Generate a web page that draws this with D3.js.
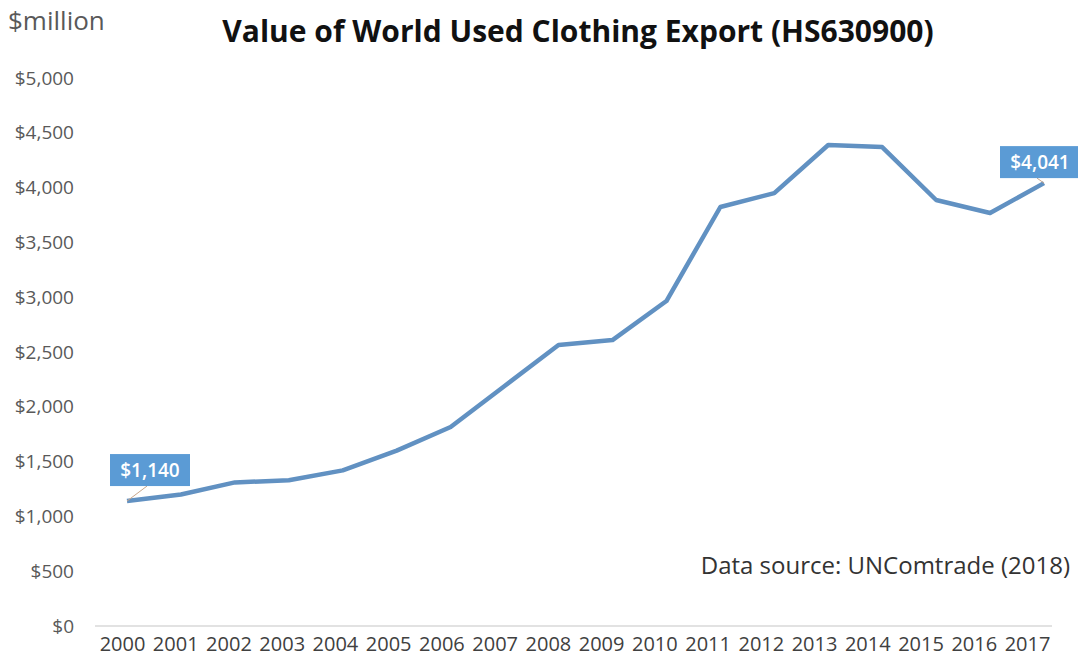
<!DOCTYPE html>
<html lang="en">
<head>
<meta charset="UTF-8">
<title>Value of World Used Clothing Export</title>
<script src="https://d3js.org/d3.v7.min.js"></script>
<style>
  body { margin: 0; background: #fff; }
  svg { display: block; font-family: "Open Sans", sans-serif; }
</style>
</head>
<body>
<svg id="chart" width="1078" height="666"></svg>
<script>
const years = ["2000","2001","2002","2003","2004","2005","2006","2007","2008",
               "2009","2010","2011","2012","2013","2014","2015","2016","2017"];
const exportValue = [1140, 1200, 1310, 1330, 1420, 1600, 1816, 2190, 2564,
                     2609, 2965, 3823, 3950, 4389, 4370, 3887, 3768, 4041];
const yTicks = [0, 500, 1000, 1500, 2000, 2500, 3000, 3500, 4000, 4500, 5000];
const labelled = ["2000", "2017"];

const svg = d3.select("#chart");

// line points and the category labels sit a little apart in the original
const x = d3.scalePoint().domain(years).range([127, 1044]);
const xLabel = d3.scalePoint().domain(years).range([122, 1027]);
const y = d3.scaleLinear().domain([0, 5000]).range([626, 78]);

// title and unit
svg.append("text")
  .attr("x", 578).attr("y", 42)
  .attr("text-anchor", "middle")
  .attr("font-size", 30).attr("font-weight", 700)
  .attr("fill", "#111")
  .text("Value of World Used Clothing Export (HS630900)");

svg.append("text")
  .attr("x", 8).attr("y", 30)
  .attr("font-size", 26).attr("fill", "#595959")
  .text("$million");

// y axis, labels only
const yAxis = d3.axisLeft(y).tickValues(yTicks)
  .tickFormat(d3.format("$,")).tickSize(0).tickPadding(0);
svg.append("g")
  .attr("transform", "translate(74,0)")
  .call(yAxis)
  .call(g => g.select(".domain").remove())
  .selectAll("text")
  .attr("font-family", "Open Sans, sans-serif")
  .attr("font-size", 19).attr("fill", "#595959");

// baseline
svg.append("line")
  .attr("x1", 95).attr("x2", 1052)
  .attr("y1", y(0)).attr("y2", y(0))
  .attr("stroke", "#d9d9d9").attr("stroke-width", 1.5);

const xAxis = d3.axisBottom(xLabel).tickSize(0).tickPadding(0);
svg.append("g")
  .attr("transform", "translate(0,633)")
  .call(xAxis)
  .call(g => g.select(".domain").remove())
  .selectAll("text")
  .attr("dy", "0.9em")
  .attr("font-family", "Open Sans, sans-serif")
  .attr("font-size", 20).attr("fill", "#404040");

// series line
const line = d3.line()
  .x((d, i) => x(years[i]))
  .y(d => y(d));

svg.append("path")
  .datum(exportValue)
  .attr("fill", "none")
  .attr("stroke", "#6191c2")
  .attr("stroke-width", 4.5)
  .attr("stroke-linejoin", "round")
  .attr("d", line);

// data callouts
const callouts = labelled.map(yr => {
  const i = years.indexOf(yr);
  return { year: yr, value: exportValue[i] };
});
const boxOffset = { "2000": [23, -31], "2017": [-4, -21] };

const co = svg.append("g").selectAll("g")
  .data(callouts).join("g");

co.append("line")
  .attr("x1", d => x(d.year)).attr("y1", d => y(d.value))
  .attr("x2", d => x(d.year) + boxOffset[d.year][0] - 3)
  .attr("y2", d => y(d.value) + boxOffset[d.year][1] + 16)
  .attr("stroke", "#c9a68a").attr("stroke-width", 1);

co.append("rect")
  .attr("x", d => x(d.year) + boxOffset[d.year][0] - 40)
  .attr("y", d => y(d.value) + boxOffset[d.year][1] - 16)
  .attr("width", 80).attr("height", 32)
  .attr("fill", "#5b9bd5");

co.append("text")
  .attr("x", d => x(d.year) + boxOffset[d.year][0])
  .attr("y", d => y(d.value) + boxOffset[d.year][1])
  .attr("dy", "0.35em")
  .attr("text-anchor", "middle")
  .attr("font-size", 19).attr("font-weight", 600)
  .attr("fill", "#fff")
  .text(d => d3.format("$,")(d.value));

// source note
svg.append("text")
  .attr("x", 1070).attr("y", 574)
  .attr("text-anchor", "end")
  .attr("font-size", 24).attr("fill", "#333")
  .text("Data source: UNComtrade (2018)");
</script>
</body>
</html>
